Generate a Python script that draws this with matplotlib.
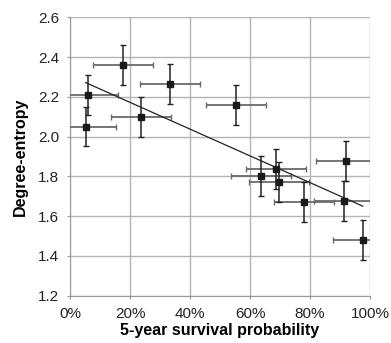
import matplotlib
matplotlib.use("Agg")
import matplotlib.pyplot as plt
import numpy as np

survival = [5.9, 17.8, 33.4, 5.2, 23.6, 55.3, 91.9, 63.8, 68.7, 69.7, 78.1, 91.4, 97.6]
entropy = [2.21, 2.36, 2.264, 2.05, 2.10, 2.159, 1.878, 1.80, 1.838, 1.771, 1.669, 1.677, 1.481]
x_err = [10, 10, 10, 10, 10, 10, 10, 10, 10, 10, 10, 10, 10]
y_err = [0.1, 0.1, 0.1, 0.1, 0.1, 0.1, 0.1, 0.1, 0.1, 0.1, 0.1, 0.1, 0.1]
x_ticks = [0, 20, 40, 60, 80, 100]
x_tick_labels = ["0%", "20%", "40%", "60%", "80%", "100%"]
y_ticks = [1.2, 1.4, 1.6, 1.8, 2.0, 2.2, 2.4, 2.6]
y_tick_labels = ["1.2", "1.4", "1.6", "1.8", "2.0", "2.2", "2.4", "2.6"]

plt.rcParams['font.family'] = ['Liberation Sans', 'DejaVu Sans']

fig = plt.figure(figsize=(3.91, 3.43), dpi=100)
ax = fig.add_axes([70/391, 1-295.5/343, 300/391, 278.2/343])

x = np.array(survival)
y = np.array(entropy)

# horizontal error bars (gray), vertical (dark)
ax.errorbar(x, y, xerr=x_err, fmt='none', ecolor='#6a6a6a', elinewidth=1.3,
            capsize=2, capthick=1.0, zorder=3, clip_on=True)
ax.errorbar(x, y, yerr=y_err, fmt='none', ecolor='#222222', elinewidth=1.1,
            capsize=2, capthick=1.0, zorder=4, clip_on=True)
ax.plot(x, y, 's', color='#1a1a1a', markersize=4.5, zorder=5)

slope, intercept = np.polyfit(x, y, 1)
xl = np.array([x.min(), x.max()])
ax.plot(xl, slope*xl + intercept, color='#222222', lw=0.9, zorder=4)

ax.set_xlim(0, 100)
ax.set_ylim(1.2, 2.6)
ax.set_xticks(x_ticks)
ax.set_xticklabels(x_tick_labels)
ax.set_yticks(y_ticks)
ax.set_yticklabels(y_tick_labels)
ax.grid(True, color='#b4b4b4', lw=1.0)
ax.set_axisbelow(True)
for s in ['top', 'right']:
    ax.spines[s].set_visible(False)
for s in ['left', 'bottom']:
    ax.spines[s].set_color('#999999')
ax.tick_params(axis='both', colors='#999999', length=2.5, labelsize=11, labelcolor='#222222')
ax.tick_params(axis='y', pad=5.5)
ax.tick_params(axis='x', pad=5.5)

ax.set_xlabel('5-year survival probability', fontsize=11.5, fontweight='bold', labelpad=2)
ax.set_ylabel('Degree-entropy', fontsize=11.5, fontweight='bold', labelpad=7)

fig.savefig('out.png', dpi=100)
